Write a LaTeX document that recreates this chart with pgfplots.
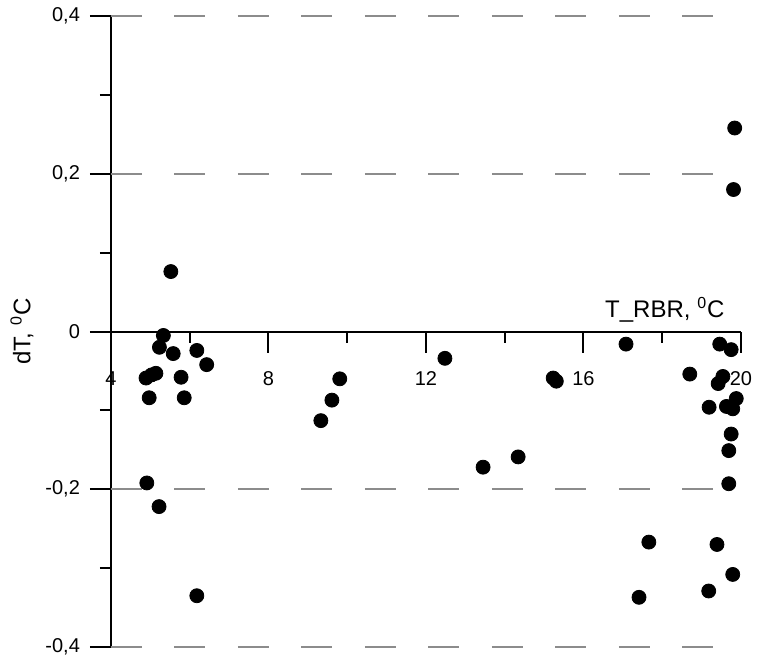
\documentclass[border=0pt]{standalone}
\usepackage{pgfplots}
\pgfplotsset{compat=1.18}
\usepackage{fontspec}
\setmainfont{Liberation Sans}

\begin{document}
\begin{tikzpicture}
\begin{axis}[
    at={(0,0)}, anchor=south west,
    scale only axis, width=315pt, height=315.5pt,
    xmin=4, xmax=20, ymin=-0.4, ymax=0.4,
    axis x line=middle, axis y line=left,
    axis line style={-, line width=1pt},
    xtick={4,8,12,16,20}, minor xtick={6,10,14,18},
    xticklabels={4,8,12,16,20},
    ytick={-0.4,-0.2,0,0.2,0.4}, minor ytick={-0.3,-0.1,0.1,0.3},
    yticklabels={{-0,4},{-0,2},0,{0,2},{0,4}},
    tick align=outside,
    major tick length=10.5pt, minor tick length=5.5pt,
    tick style={black, line width=1pt},
    ticklabel style={font=\fontsize{10}{12}\selectfont},
    xticklabel style={yshift=-6pt},
    yticklabel style={xshift=-1.5pt},
    hide obscured x ticks=false, hide obscured y ticks=false,
    clip=false,
]
% dashed reference lines
\foreach \yy in {-0.4,-0.2,0.2,0.4}{
    \edef\tmp{\noexpand\draw[black!45, line width=1pt, dash pattern=on 15.5pt off 16.25pt]
        (axis cs:4,\yy) -- (axis cs:20,\yy);}
    \tmp
}

\addplot[only marks, mark=*, mark size=3.5pt, black] coordinates {
    (5.52,0.076) (5.33,-0.005) (5.23,-0.020) (5.58,-0.028) (6.18,-0.024)
    (6.43,-0.042) (4.89,-0.059) (5.03,-0.055) (5.14,-0.053) (5.78,-0.058)
    (4.97,-0.084) (5.86,-0.084) (4.91,-0.192) (5.22,-0.222) (6.18,-0.335)
    (9.33,-0.113) (9.61,-0.087) (9.81,-0.060)
    (12.48,-0.034) (13.45,-0.172) (14.34,-0.159) (15.23,-0.059) (15.31,-0.063)
    (17.08,-0.016) (18.70,-0.054) (17.66,-0.267) (17.41,-0.337)
    (19.46,-0.016) (19.75,-0.023) (19.54,-0.057) (19.42,-0.066) (19.19,-0.096)
    (19.88,-0.085) (19.63,-0.095) (19.79,-0.098) (19.75,-0.130) (19.69,-0.151)
    (19.69,-0.193) (19.39,-0.270) (19.79,-0.308) (19.18,-0.329)
    (19.84,0.258) (19.81,0.180)
};

\node[anchor=base east, font=\fontsize{12}{14}\selectfont, yshift=7pt]
    at (axis cs:19.76,0) {T\_RBR, \textsuperscript{0}C};
\node[rotate=90, font=\fontsize{12}{14}\selectfont, yshift=44.5pt]
    at (axis cs:4,0) {dT, \textsuperscript{0}C};
\end{axis}
\pgfresetboundingbox
\path[use as bounding box] (-55.5pt,-9.5pt) rectangle (323pt,323.5pt);
\end{tikzpicture}
\end{document}
